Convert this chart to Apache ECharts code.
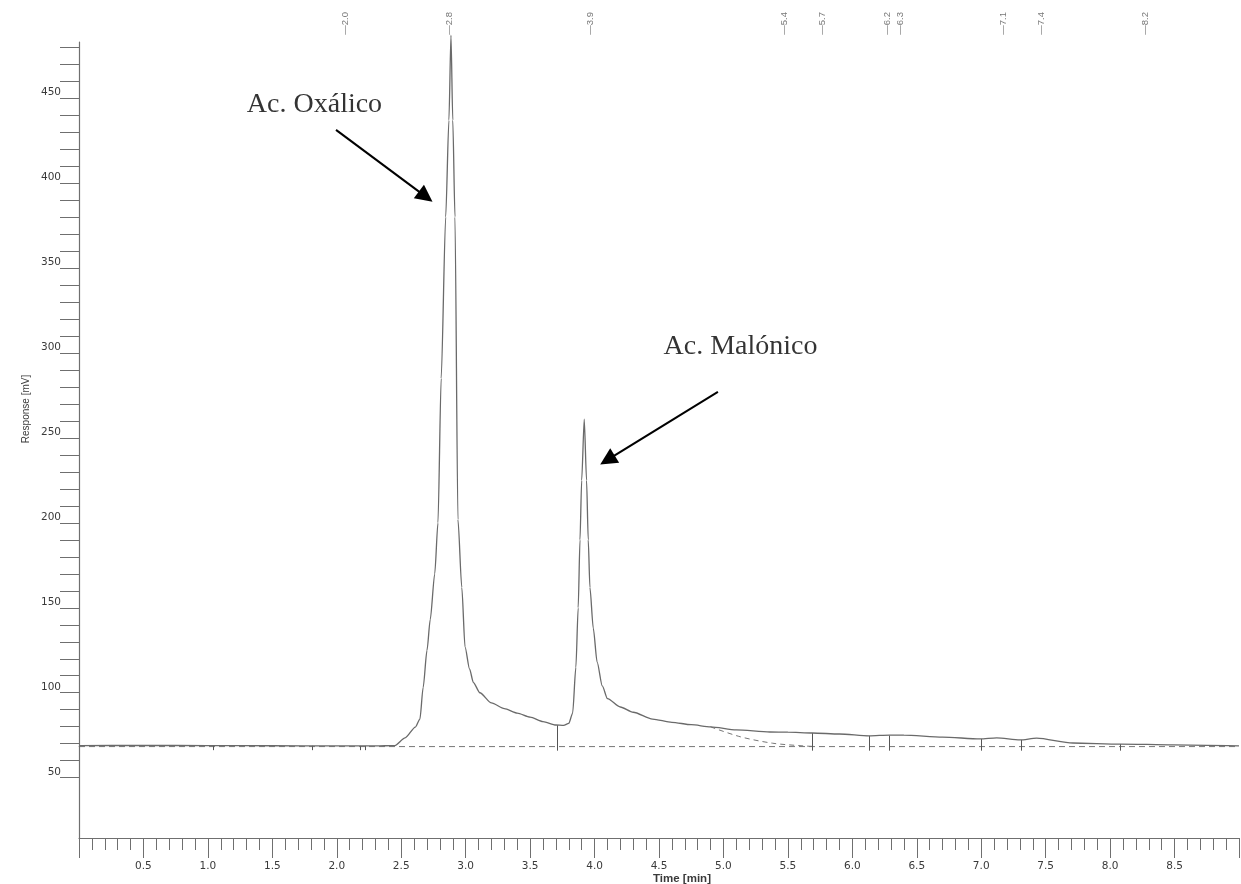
<!DOCTYPE html>
<html>
<head>
<meta charset="utf-8">
<title>Cromatograma</title>
<script src="https://cdn.jsdelivr.net/npm/echarts@6/dist/echarts.min.js"></script>
<style>
  html, body { margin: 0; padding: 0; background: #ffffff; }
  #chart { width: 1241px; height: 884px; }
</style>
</head>
<body>
<div id="chart"></div>
<script>
// Detector trace: retention time (min) and response (mV)
const timeMin = [
  0.00, 0.01, 0.50, 1.00, 1.50, 2.00, 2.30, 2.45, 2.53, 2.61, 2.645, 2.67, 2.70, 2.725,
  2.76, 2.785, 2.81, 2.845, 2.87, 2.886, 2.90, 2.917, 2.94, 2.97, 2.995, 3.03, 3.06,
  3.11, 3.20, 3.30, 3.40, 3.50, 3.60, 3.70, 3.76, 3.80, 3.83, 3.855, 3.873, 3.887,
  3.900, 3.920, 3.938, 3.951, 3.964, 3.99, 4.02, 4.06, 4.10, 4.20, 4.30, 4.45, 4.60,
  4.75, 4.90, 5.10, 5.36, 5.50, 5.69, 5.90, 6.13, 6.29, 6.40, 6.70, 6.99, 7.12, 7.30,
  7.43, 7.71, 8.08, 8.49, 9.00
];
const responseMv = [
  68.2, 68.9, 69.0, 68.9, 68.8, 68.7, 68.7, 68.9, 73.4, 79.8, 84.5, 103.0, 125.0, 143.0,
  170.0, 200.0, 285.0, 380.0, 437.0, 487.0, 437.0, 380.0, 202.0, 162.0, 127.0, 114.0, 106.0,
  100.0, 94.0, 90.6, 88.0, 85.6, 83.0, 81.0, 80.8, 82.0, 88.0, 115.0, 150.0, 190.0,
  225.0, 261.0, 225.0, 190.0, 162.0, 138.0, 118.0, 104.0, 96.5, 91.6, 88.5, 84.5, 82.6,
  81.2, 79.9, 78.1, 76.9, 76.8, 76.3, 75.7, 74.6, 75.1, 75.0, 73.9, 72.8, 73.4, 72.2,
  73.3, 70.4, 69.8, 69.3, 68.7
];

// Integration baseline (dashed)
const baselineTime = [0, 9];
const baselineMv = [68.3, 68.3];
// Tangent skim under the tail of the second peak
const skimTime = [4.90, 5.13, 5.38, 5.62, 5.70];
const skimMv = [79.9, 74.1, 70.3, 68.7, 68.4];

// Peak start/end marks (drop lines to the baseline)
const markTime = [1.04, 1.81, 2.18, 2.22, 3.71, 5.69, 6.13, 6.29, 7.00, 7.31, 8.08];
const markTopMv = [68.9, 68.8, 68.7, 68.7, 80.9, 76.3, 74.6, 74.8, 72.8, 72.2, 69.8];
const markBottomMv = [66.2, 66.2, 66.2, 66.2, 65.9, 65.9, 65.9, 65.9, 65.9, 65.9, 65.9];

// Retention times printed along the top
const peakRt = [2.0, 2.8, 3.9, 5.4, 5.7, 6.2, 6.3, 7.1, 7.4, 8.2];

// Axis ticks and labels
const yTickValues = [50, 60, 70, 80, 90, 100, 110, 120, 130, 140, 150, 160, 170, 180, 190, 200,
  210, 220, 230, 240, 250, 260, 270, 280, 290, 300, 310, 320, 330, 340, 350, 360, 370, 380,
  390, 400, 410, 420, 430, 440, 450, 460, 470, 480];
const yLabelValues = [50, 100, 150, 200, 250, 300, 350, 400, 450];

// Compound names
const compoundNames = ['Ac. Oxálico', 'Ac. Malónico'];

// Annotation placement in data units (time, mV)
const RT_ROW_MV = 494;
const namePos = [[1.827, 446.0], [5.132, 303.5]];
const arrowFrom = [[1.994, 431.3], [4.957, 277.1]];
const arrowTo = [[2.690, 392.0], [4.100, 237.0]];

const AXIS_GREY = '#6f6f6f';
const TEXT_GREY = '#3a3a3a';

const traceData = timeMin.map((t, i) => [t, responseMv[i]]);
const baselineData = baselineTime.map((t, i) => [t, baselineMv[i]]);
const skimData = skimTime.map((t, i) => [t, skimMv[i]]);
const markData = markTime.map((t, i) => ({ coords: [[t, markTopMv[i]], [t, markBottomMv[i]]] }));
const arrowData = arrowFrom.map((p, i) => ({ coords: [p, arrowTo[i]] }));
const nameData = compoundNames.map((n, i) => ({ name: n, value: namePos[i] }));
const rtData = peakRt.map(t => [t, RT_ROW_MV]);

const chart = echarts.init(document.getElementById('chart'), null, { renderer: 'canvas' });

chart.setOption({
  animation: false,
  backgroundColor: '#ffffff',
  grid: { left: 79, right: 2, top: 42, bottom: 46, containLabel: false, outerBoundsMode: 'none' },
  xAxis: {
    type: 'value',
    min: 0,
    max: 9,
    interval: 0.5,
    name: 'Time [min]',
    nameLocation: 'middle',
    nameGap: 35,
    nameMoveOverlap: false,
    nameTextStyle: {
      fontFamily: 'Liberation Sans', fontSize: 11.5, fontWeight: 'bold', color: TEXT_GREY,
      padding: [0, 0, 0, 46]
    },
    axisLine: { show: true, lineStyle: { color: AXIS_GREY, width: 1.2 } },
    axisTick: { show: true, length: 20, lineStyle: { color: AXIS_GREY, width: 1 } },
    minorTick: { show: true, splitNumber: 5, length: 12, lineStyle: { color: AXIS_GREY, width: 1 } },
    splitLine: { show: false },
    minorSplitLine: { show: false },
    axisLabel: {
      show: true, margin: 23, showMinLabel: false, showMaxLabel: false,
      fontFamily: 'DejaVu Sans', fontSize: 10.5, color: TEXT_GREY,
      formatter: v => v.toFixed(1)
    }
  },
  yAxis: {
    type: 'value',
    min: 14.5,
    max: 483,
    name: 'Response [mV]',
    nameLocation: 'middle',
    nameGap: 48,
    nameMoveOverlap: false,
    nameTextStyle: {
      fontFamily: 'Liberation Sans', fontSize: 10, color: TEXT_GREY,
      padding: [0, 0, 0, 62]
    },
    axisLine: { show: true, lineStyle: { color: AXIS_GREY, width: 1.2 } },
    axisTick: { show: true, length: 19, customValues: yTickValues, lineStyle: { color: AXIS_GREY, width: 1 } },
    splitLine: { show: false },
    axisLabel: {
      show: true, margin: 18, customValues: yLabelValues, verticalAlign: 'bottom',
      fontFamily: 'DejaVu Sans', fontSize: 10.5, color: TEXT_GREY,
      formatter: v => String(v)
    }
  },
  series: [
    {
      name: 'baseline',
      type: 'line',
      data: baselineData,
      symbol: 'none',
      silent: true,
      lineStyle: { color: '#777777', width: 1, type: [6, 4] },
      z: 2
    },
    {
      name: 'skim',
      type: 'line',
      data: skimData,
      symbol: 'none',
      smooth: 0.3,
      silent: true,
      lineStyle: { color: '#777777', width: 1, type: [5, 4] },
      z: 2
    },
    {
      name: 'marks',
      type: 'lines',
      coordinateSystem: 'cartesian2d',
      data: markData,
      silent: true,
      symbol: 'none',
      lineStyle: { color: '#555555', width: 1, opacity: 1 },
      z: 3
    },
    {
      name: 'signal',
      type: 'line',
      data: traceData,
      symbol: 'none',
      smooth: 0.25,
      smoothMonotone: 'x',
      clip: false,
      lineStyle: { color: '#6a6a6a', width: 1.3 },
      z: 4
    },
    {
      name: 'retention',
      type: 'scatter',
      data: rtData,
      symbolSize: 0,
      clip: false,
      silent: true,
      label: {
        show: true,
        position: 'inside',
        rotate: 90,
        offset: [0, 9],
        fontFamily: 'Liberation Sans',
        fontSize: 9.5,
        color: '#555555',
        formatter: p => '\u2014' + p.value[0].toFixed(1)
      },
      z: 5
    },
    {
      name: 'arrows',
      type: 'lines',
      coordinateSystem: 'cartesian2d',
      data: arrowData,
      silent: true,
      symbol: ['none', 'triangle'],
      symbolSize: [13, 17],
      lineStyle: { color: '#000000', width: 2, opacity: 1 },
      itemStyle: { color: '#000000' },
      z: 5
    },
    {
      name: 'names',
      type: 'scatter',
      data: nameData,
      symbolSize: 0,
      clip: false,
      silent: true,
      label: {
        show: true,
        position: 'inside',
        formatter: '{b}',
        fontFamily: 'Liberation Serif',
        fontSize: 28,
        color: '#000000'
      },
      z: 6
    }
  ]
});
</script>
</body>
</html>
